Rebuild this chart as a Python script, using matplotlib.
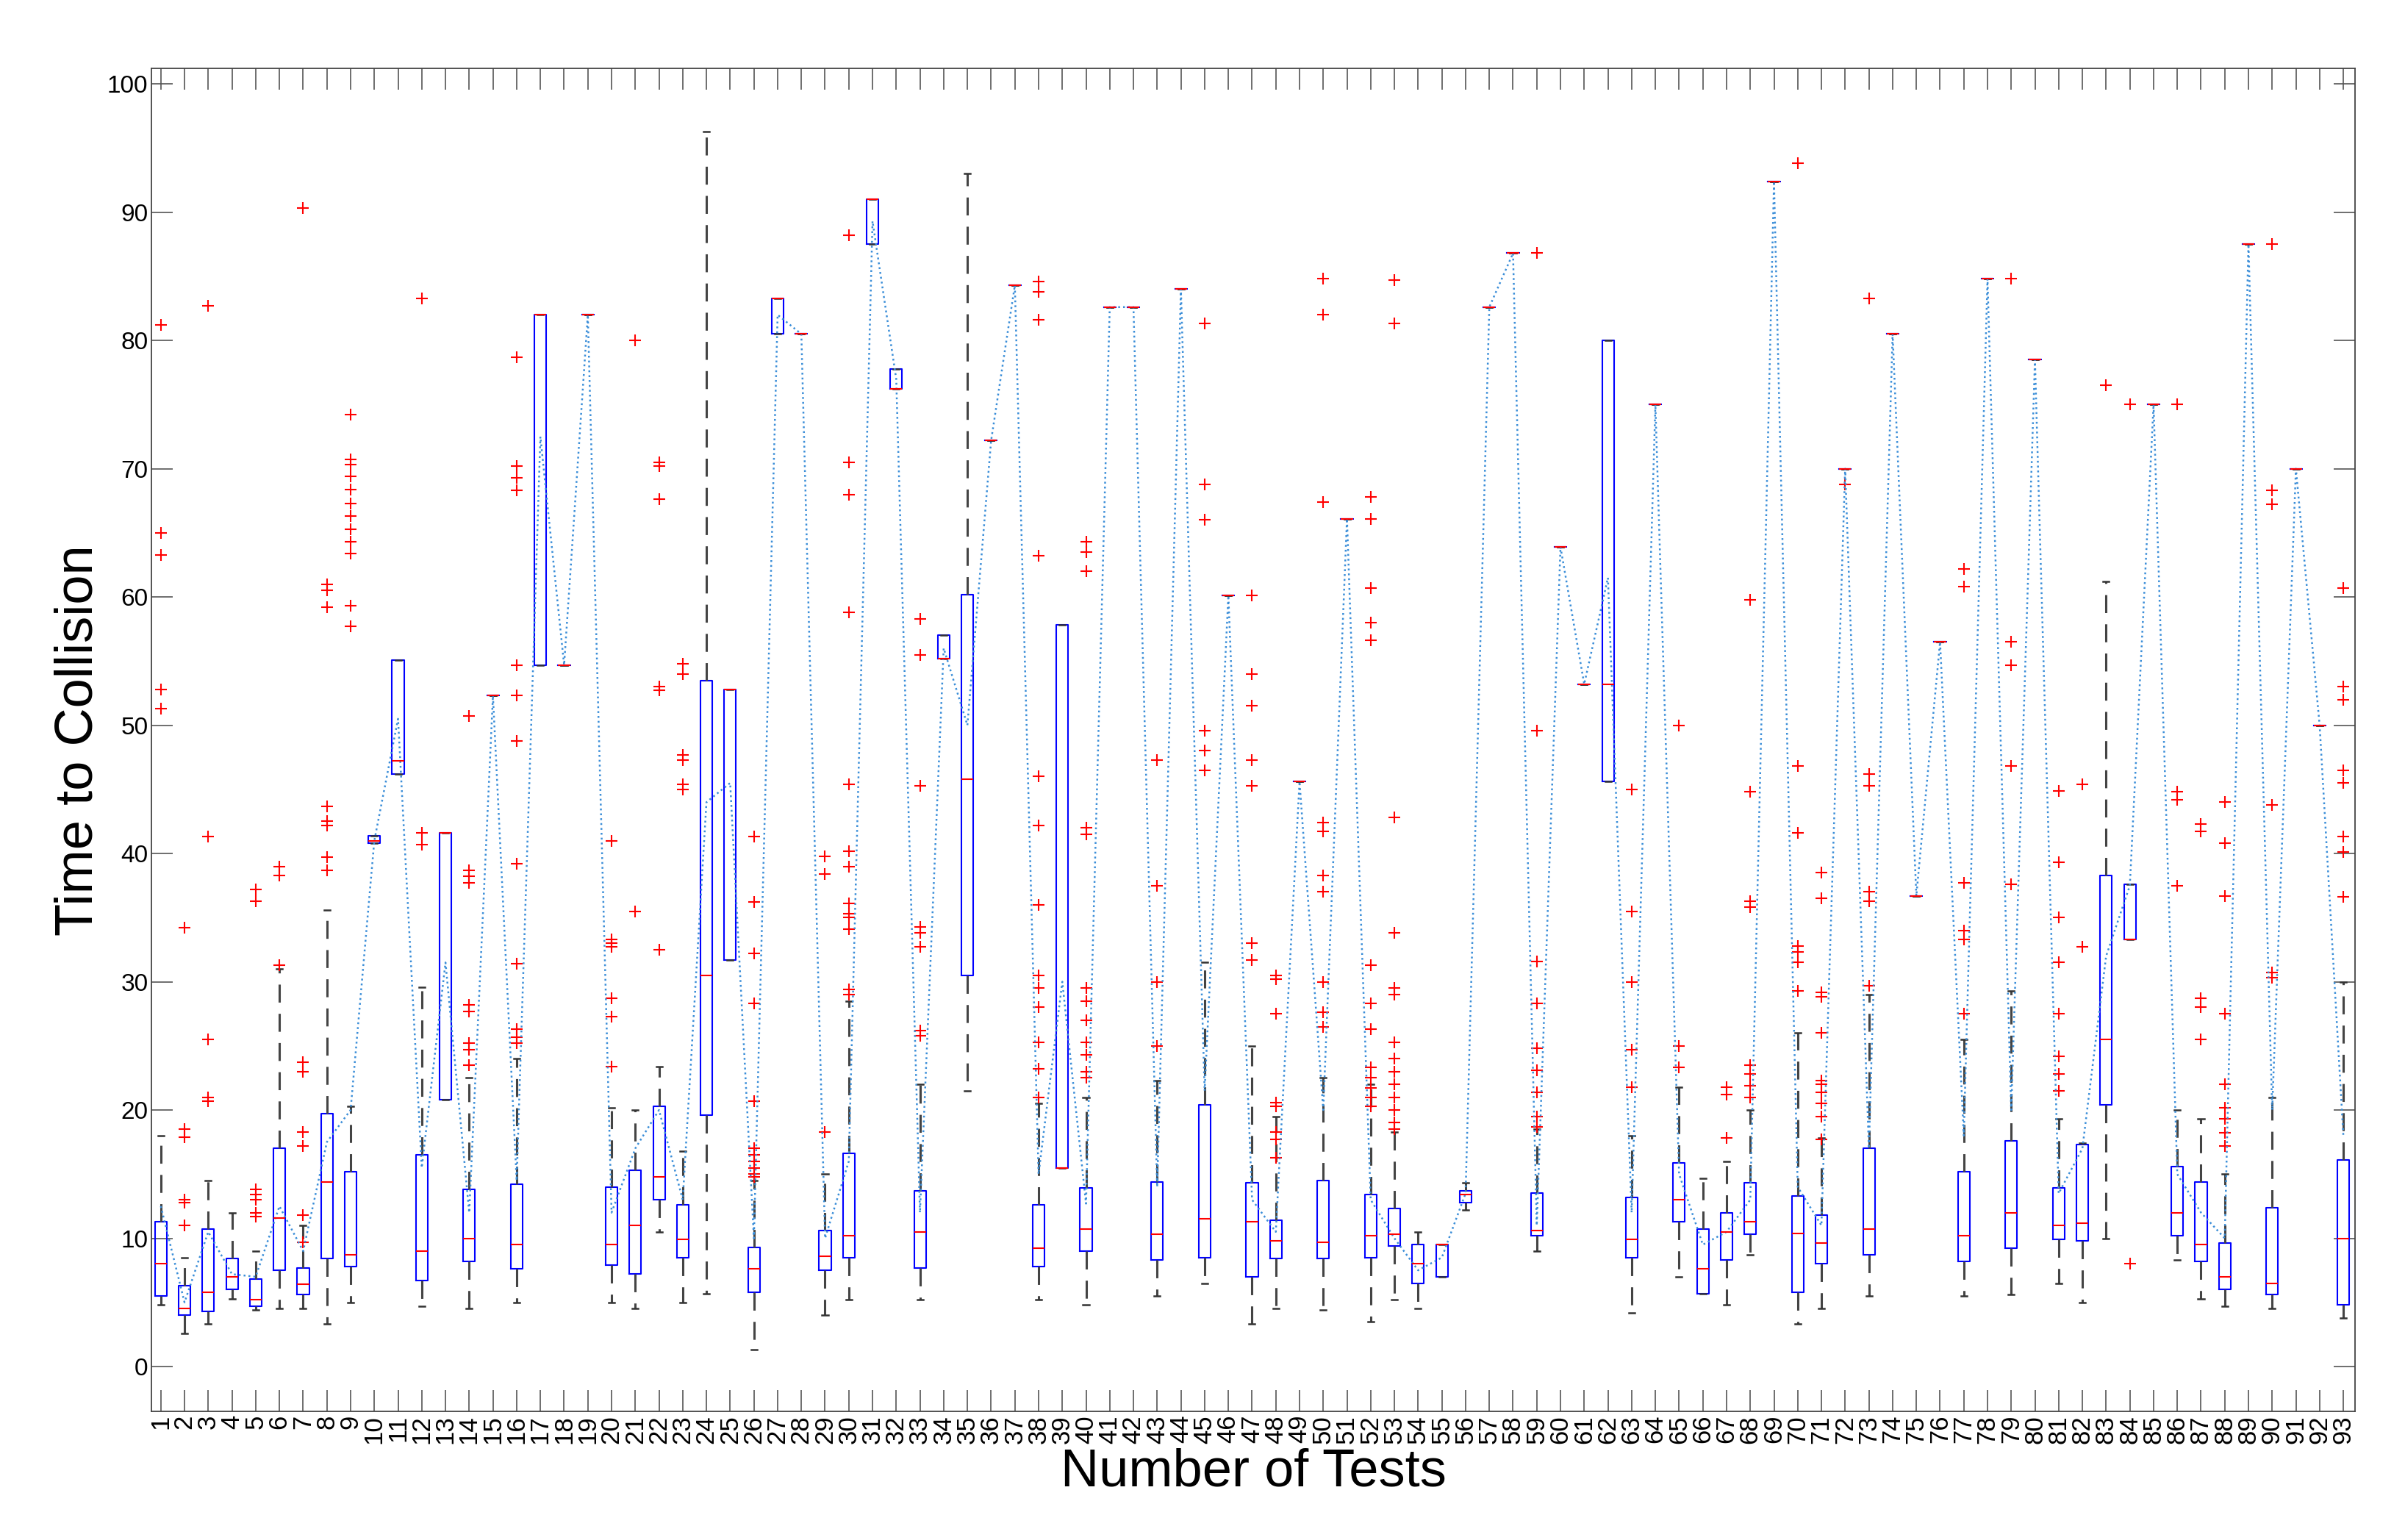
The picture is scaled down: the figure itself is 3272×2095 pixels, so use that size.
import matplotlib
matplotlib.use("Agg")
import matplotlib.pyplot as plt

plt.rcParams["font.family"] = ["Liberation Sans", "DejaVu Sans"]

# per test: (whisker low, q1, median, q3, whisker high)
stats = [
    (4.8, 5.5, 8, 11.3, 18), (2.6, 4, 4.5, 6.3, 8.5), (3.3, 4.3, 5.8, 10.7, 14.5),
    (5.3, 6, 7, 8.4, 12), (4.4, 4.7, 5.2, 6.8, 9), (4.5, 7.5, 11.6, 17, 31),
    (4.5, 5.6, 6.4, 7.7, 11), (3.3, 8.4, 14.4, 19.7, 35.6), (5, 7.8, 8.7, 15.2, 20.3),
    (40.8, 40.8, 41, 41.4, 41.4), (46.2, 46.2, 47.2, 55.1, 55.1), (4.7, 6.7, 9, 16.5, 29.6),
    (20.8, 20.8, 41.6, 41.6, 41.6), (4.5, 8.2, 10, 13.8, 22.5), (52.3, 52.3, 52.3, 52.3, 52.3),
    (5, 7.6, 9.5, 14.2, 24), (54.7, 54.7, 82, 82, 82), (54.7, 54.7, 54.7, 54.7, 54.7),
    (82, 82, 82, 82, 82), (5, 7.9, 9.5, 14, 20.2), (4.5, 7.2, 11, 15.3, 20),
    (10.5, 13, 14.8, 20.3, 23.4), (5, 8.5, 9.9, 12.6, 16.8), (5.7, 19.6, 30.5, 53.5, 96.3),
    (31.7, 31.7, 52.8, 52.8, 52.8), (1.3, 5.8, 7.6, 9.3, 14.5), (80.5, 80.5, 83.3, 83.3, 83.3),
    (80.5, 80.5, 80.5, 80.5, 80.5), (4, 7.5, 8.6, 10.6, 15), (5.2, 8.5, 10.2, 16.6, 28.5),
    (87.5, 87.5, 91, 91, 91), (76.2, 76.2, 76.2, 77.8, 77.8), (5.2, 7.7, 10.5, 13.7, 22),
    (55.2, 55.2, 55.2, 57, 57), (21.5, 30.5, 45.8, 60.2, 93), (72.2, 72.2, 72.2, 72.2, 72.2),
    (84.3, 84.3, 84.3, 84.3, 84.3), (5.2, 7.8, 9.2, 12.6, 20.5), (15.5, 15.5, 15.5, 57.8, 57.8),
    (4.8, 9, 10.7, 13.9, 21), (82.6, 82.6, 82.6, 82.6, 82.6), (82.6, 82.6, 82.6, 82.6, 82.6),
    (5.5, 8.3, 10.3, 14.4, 22.3), (84, 84, 84, 84, 84), (6.5, 8.5, 11.5, 20.4, 31.5),
    (60.1, 60.1, 60.1, 60.1, 60.1), (3.3, 7, 11.3, 14.3, 25), (4.5, 8.4, 9.8, 11.4, 19.5),
    (45.6, 45.6, 45.6, 45.6, 45.6), (4.4, 8.4, 9.7, 14.5, 22.5), (66.1, 66.1, 66.1, 66.1, 66.1),
    (3.5, 8.5, 10.2, 13.4, 22), (5.2, 9.4, 10.3, 12.3, 18.3), (4.5, 6.5, 8, 9.5, 10.5),
    (7, 7, 9.5, 9.5, 9.5), (12.2, 12.8, 13.4, 13.7, 14.3), (82.6, 82.6, 82.6, 82.6, 82.6),
    (86.8, 86.8, 86.8, 86.8, 86.8), (9, 10.2, 10.6, 13.5, 18.5), (63.9, 63.9, 63.9, 63.9, 63.9),
    (53.2, 53.2, 53.2, 53.2, 53.2), (45.6, 45.6, 53.2, 80, 80), (4.2, 8.5, 9.9, 13.2, 18),
    (75, 75, 75, 75, 75), (7, 11.3, 13, 15.9, 21.8), (5.7, 5.7, 7.6, 10.7, 14.7),
    (4.8, 8.3, 10.5, 12, 16), (8.7, 10.3, 11.3, 14.3, 20), (92.4, 92.4, 92.4, 92.4, 92.4),
    (3.3, 5.8, 10.4, 13.3, 26), (4.5, 8, 9.6, 11.8, 17.8), (70, 70, 70, 70, 70),
    (5.5, 8.7, 10.7, 17, 29), (80.5, 80.5, 80.5, 80.5, 80.5), (36.7, 36.7, 36.7, 36.7, 36.7),
    (56.5, 56.5, 56.5, 56.5, 56.5), (5.5, 8.2, 10.2, 15.2, 25.5), (84.8, 84.8, 84.8, 84.8, 84.8),
    (5.6, 9.2, 12, 17.6, 29.3), (78.5, 78.5, 78.5, 78.5, 78.5), (6.5, 9.9, 11, 13.9, 19.3),
    (5, 9.8, 11.2, 17.3, 17.4), (10, 20.4, 25.5, 38.3, 61.2), (33.3, 33.3, 33.3, 37.6, 37.6),
    (75, 75, 75, 75, 75), (8.3, 10.2, 12, 15.6, 20), (5.3, 8.2, 9.5, 14.4, 19.3),
    (4.7, 6, 7, 9.6, 15), (87.5, 87.5, 87.5, 87.5, 87.5), (4.5, 5.6, 6.5, 12.4, 21),
    (70, 70, 70, 70, 70), (50, 50, 50, 50, 50), (3.8, 4.8, 10, 16.1, 30),
]

means = [12.5, 5, 10.5, 7.2, 7, 12.5, 9, 17.5, 20, 41, 50.5, 15.5, 31.5, 12, 52.3, 14.5,
         72.5, 54.7, 82, 12, 17, 20, 13, 44, 45.5, 10, 82, 80.5, 10, 16, 89.3, 77, 12, 56,
         50, 72.2, 84.3, 15, 30, 12.7, 82.6, 82.6, 14, 84, 21.5, 60.1, 13, 10.5, 45.6, 20,
         66.1, 13, 10, 7.5, 8.5, 13.5, 82.6, 86.8, 11, 63.9, 53.2, 61.5, 12, 75, 15, 9.5,
         10.5, 13, 92.4, 14, 11, 70, 17, 80.5, 36.7, 56.5, 18, 84.8, 20, 78.5, 13.5, 17, 32,
         37.5, 75, 15, 12, 10, 87.5, 20, 70, 50, 18]

outliers = [
    [81.2, 65, 63.3, 52.8, 51.3], [34.2, 18.5, 17.9, 13, 12.8, 11], [82.7, 41.3, 25.5, 21, 20.7],
    [], [37.2, 36.3, 13.8, 13.4, 13, 12, 11.7], [39, 38.3, 31.3],
    [90.3, 23.7, 23, 18.3, 17.2, 11.8, 9.7], [61, 60.5, 59.2, 43.7, 42.5, 42.2, 39.7, 38.7],
    [74.2, 70.7, 70.3, 69.4, 68.4, 67.3, 66.3, 65.3, 64.3, 63.4, 59.3, 57.7],
    [], [], [83.3, 41.6, 40.7], [], [50.7, 38.7, 38.2, 37.7, 28.2, 27.7, 25.2, 24.7, 23.5], [],
    [78.7, 70.2, 69.3, 68.3, 54.7, 52.3, 48.8, 39.2, 31.4, 26.3, 25.7, 25.2], [], [], [],
    [41, 33.3, 33, 32.7, 28.7, 27.3, 23.4], [80, 35.5], [70.5, 70.2, 67.6, 53, 52.7, 32.5],
    [54.8, 54, 47.7, 47.3, 45.4, 45], [], [],
    [41.3, 36.2, 32.2, 28.3, 20.7, 17, 16.5, 16, 15.5, 15, 14.8], [], [], [39.8, 38.4, 18.3],
    [88.2, 70.5, 68, 58.8, 45.4, 40.2, 39, 36.1, 35.3, 35.0, 34.1, 29.4, 29], [], [],
    [58.3, 55.5, 45.3, 34.3, 33.8, 32.7, 26.2, 25.8], [], [], [], [],
    [84.6, 83.8, 81.6, 63.2, 46, 42.2, 36, 30.5, 29.5, 28, 25.3, 23.2, 21], [],
    [64.3, 63.5, 62, 42, 41.5, 29.5, 28.5, 27, 25.3, 24.3, 23, 22.5], [], [],
    [47.3, 37.5, 30, 25], [], [81.3, 68.8, 66, 49.6, 48, 46.5], [],
    [60.1, 54, 51.5, 47.3, 45.3, 33, 31.7], [30.5, 30.2, 27.5, 20.6, 20.3, 18.3, 17.7, 16.3], [],
    [84.8, 82, 67.4, 42.4, 41.7, 38.3, 37, 30, 27.6, 26.5], [],
    [67.8, 66.1, 60.7, 58, 56.6, 31.3, 28.3, 26.3, 23.3, 22.5, 21.7, 21, 20.3],
    [84.7, 81.3, 42.8, 33.8, 29.5, 29, 25.3, 24, 23, 22, 21, 20, 19, 18.5], [], [], [], [], [],
    [86.8, 49.6, 31.6, 28.3, 24.8, 23.1, 21.4, 19.5, 18.7], [], [], [],
    [45, 35.5, 30, 24.7, 21.8], [], [50, 25, 23.3], [], [21.8, 21.2, 17.8],
    [59.8, 44.8, 36.3, 35.8, 23.5, 22.8, 21.9, 21], [],
    [93.8, 46.8, 41.6, 32.8, 32.3, 31.5, 29.3],
    [38.5, 36.5, 29.2, 28.8, 26, 22.3, 22, 21.4, 20.5, 19.5, 17.7], [68.8],
    [83.3, 46.2, 45.3, 37, 36.3, 29.7], [], [], [], [62.2, 60.8, 37.7, 34, 33.3, 27.5], [],
    [84.8, 56.5, 54.7, 46.8, 37.6], [], [44.9, 39.3, 35, 31.5, 27.5, 24.2, 22.8, 21.5],
    [45.4, 32.7], [76.5], [75, 8], [], [75, 44.8, 44.2, 37.5], [42.3, 41.7, 28.7, 28, 25.5],
    [44, 40.8, 36.7, 27.5, 22, 20.2, 19.3, 18.2, 17.2], [], [87.5, 68.3, 67.2, 43.8, 30.7, 30.3],
    [], [], [60.7, 53, 52, 46.5, 45.5, 41.3, 40.1, 36.6],
]

tests = list(range(1, len(stats) + 1))

bxp_stats = [dict(whislo=s[0], q1=s[1], med=s[2], q3=s[3], whishi=s[4], fliers=f)
             for s, f in zip(stats, outliers)]

fig = plt.figure(figsize=(32.73, 20.95), dpi=100)
ax = fig.add_axes([0.063, 0.0835, 0.916, 0.872])

ax.bxp(bxp_stats, positions=tests, widths=0.5, showfliers=True,
       boxprops=dict(color="blue", lw=1.5),
       medianprops=dict(color="red", lw=1.5),
       whiskerprops=dict(color="#444444", ls=(0, (8, 5)), lw=2.2),
       capprops=dict(color="#333333", lw=1.8), capwidths=0.25,
       flierprops=dict(marker="+", markeredgecolor="red", markersize=12, mew=1.5))
ax.plot(tests, means, ls=":", color="#3b8ed8", lw=1.8)

ax.set_xlim(0.61, 93.5)
ax.set_ylim(-3.5, 101.2)
ax.set_yticks(range(0, 101, 10))
ax.set_xticks(tests)
ax.set_xticklabels([str(t) for t in tests], rotation=90, fontsize=25)
ax.tick_params(axis="y", labelsize=24)
ax.tick_params(direction="in", length=21, width=1.2, top=True, right=True, color="#555555")
ax.set_xlabel("Number of Tests", fontsize=52, labelpad=4)
ax.set_ylabel("Time to Collision", fontsize=52)
for sp in ax.spines.values():
    sp.set_linewidth(1.3)
    sp.set_color("#444444")

fig.savefig("out.png", dpi=100)
